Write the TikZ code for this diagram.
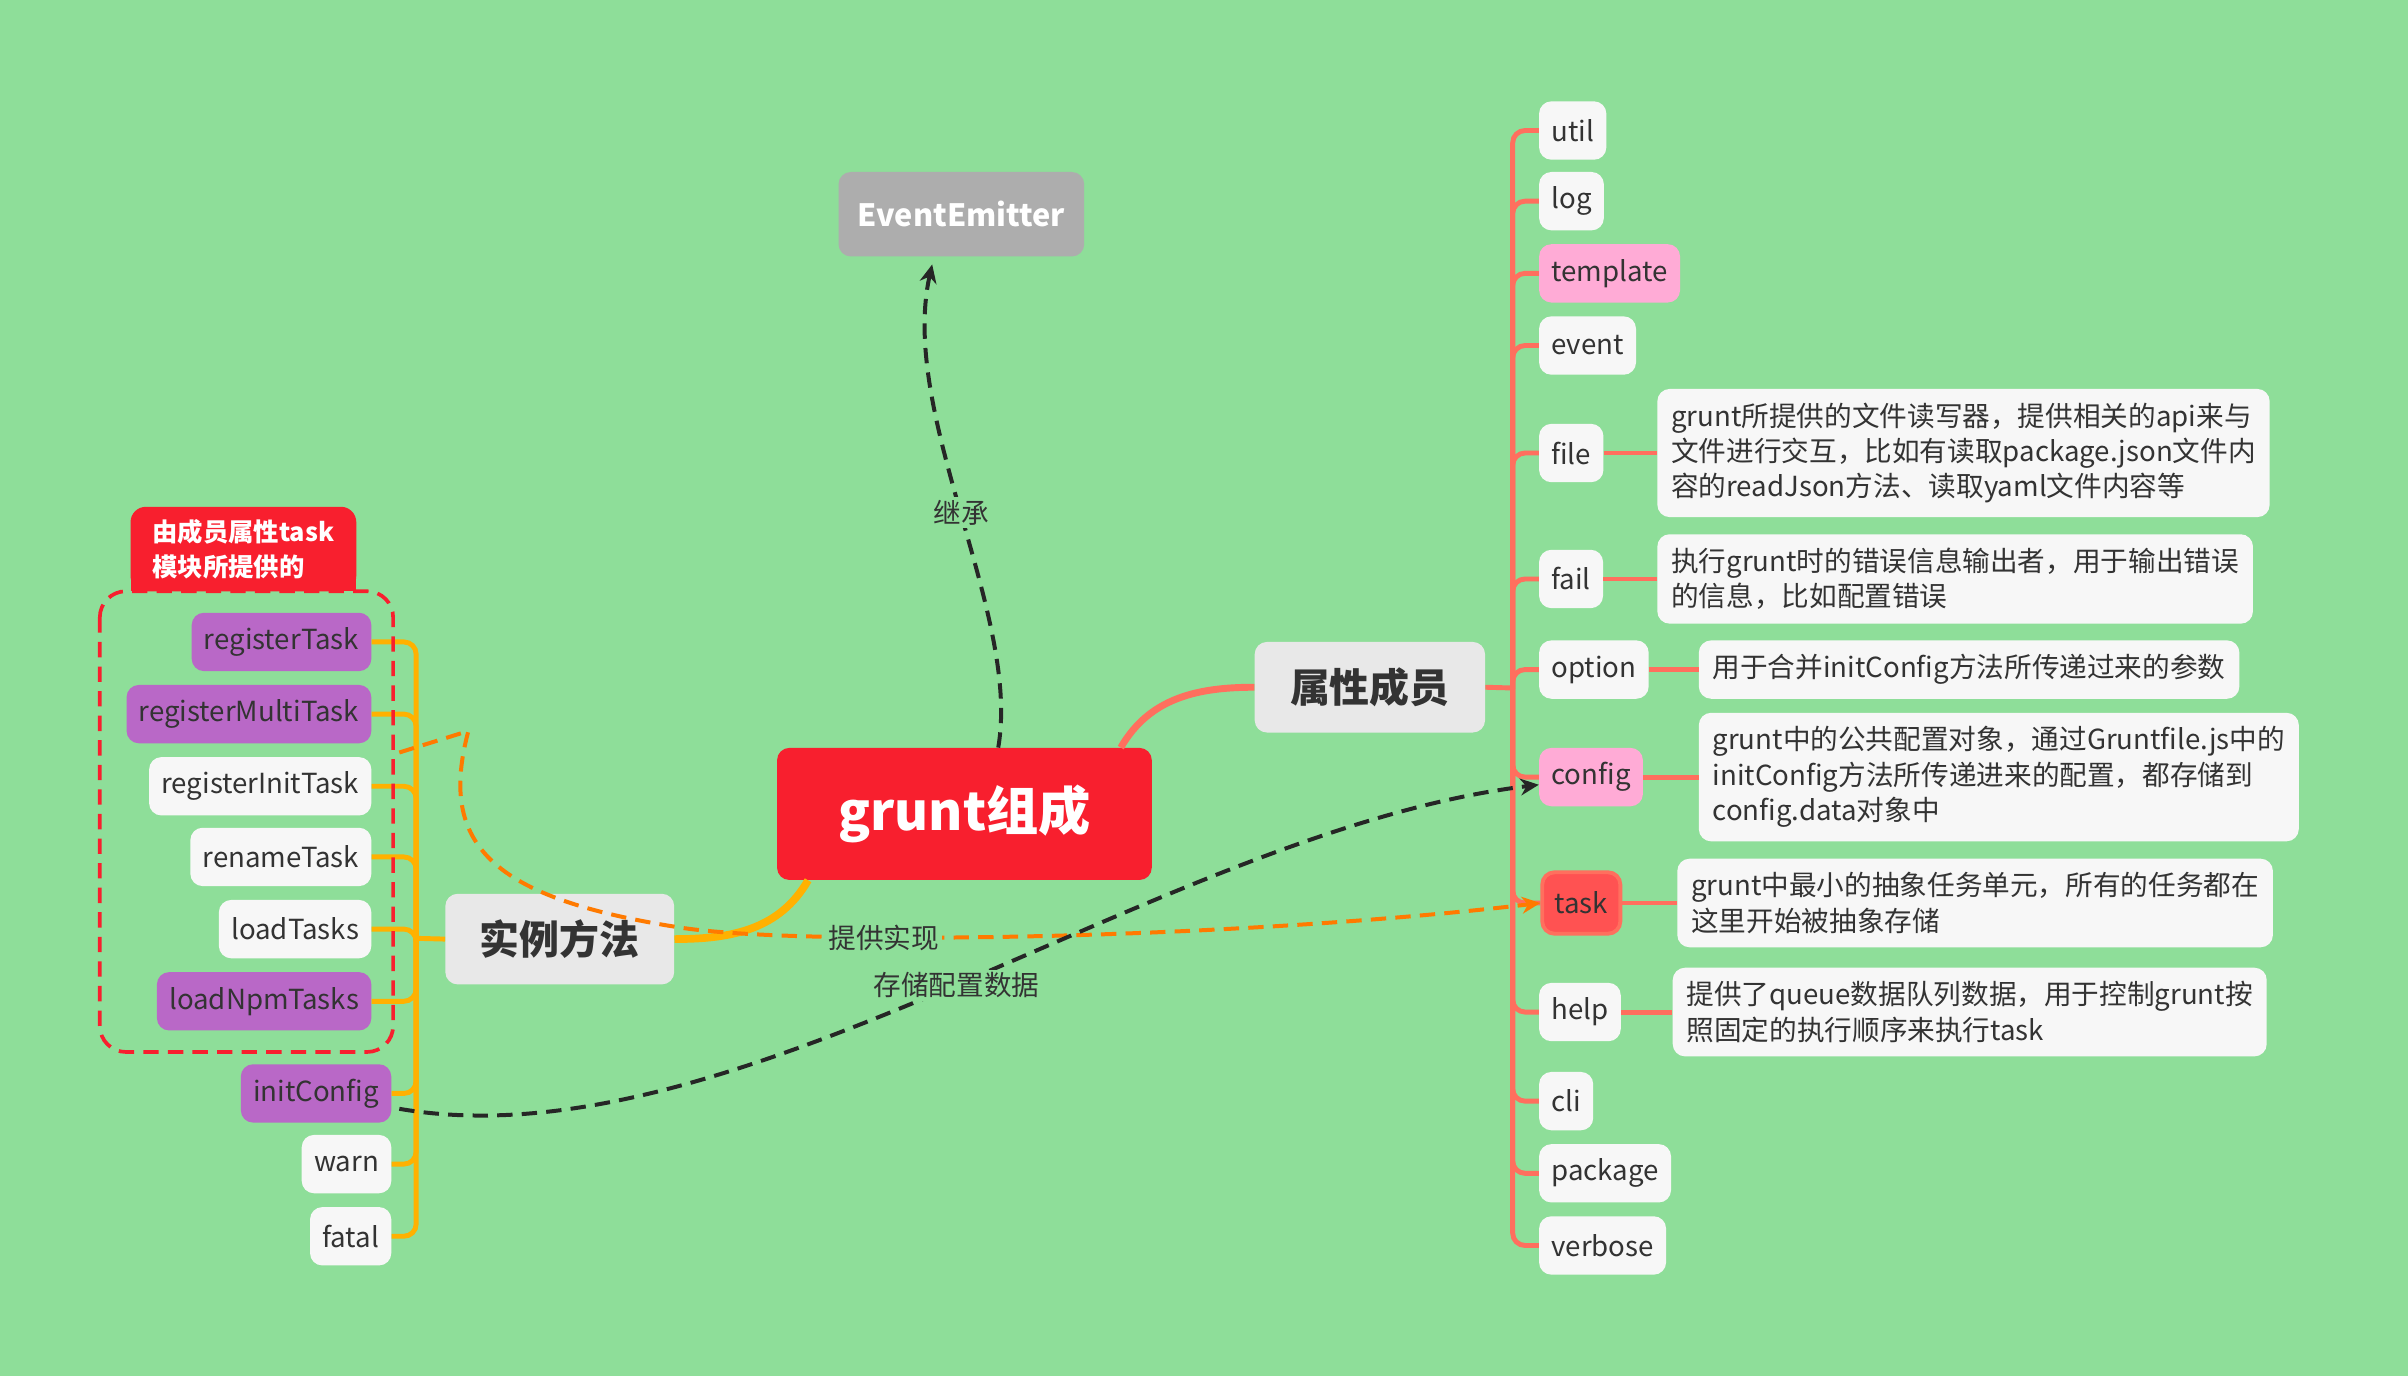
\documentclass[tikz,border=0pt]{standalone}
\usepackage{fontspec}
\setmainfont{Noto Sans CJK SC}
\usetikzlibrary{arrows.meta, positioning}

\definecolor{bggreen}{RGB}{142,222,153}
\definecolor{mainred}{RGB}{248,31,46}
\definecolor{emgray}{RGB}{173,173,173}
\definecolor{topicgray}{RGB}{232,232,232}
\definecolor{leafwhite}{RGB}{247,247,247}
\definecolor{leafpurple}{RGB}{185,104,199}
\definecolor{leafpink}{RGB}{255,171,214}
\definecolor{taskred}{RGB}{255,82,82}
\definecolor{linesalmon}{RGB}{255,111,94}
\definecolor{lineorange}{RGB}{255,177,0}
\definecolor{dashorange}{RGB}{255,122,0}
\definecolor{dashblack}{RGB}{38,38,38}
\definecolor{txtdark}{RGB}{51,51,51}

\tikzset{
    leaf/.style={fill=leafwhite, rounded corners=8pt, text=txtdark,
        font=\fontsize{18}{22}\selectfont, inner xsep=8pt, inner ysep=0pt, minimum height=38pt},
    purpleleaf/.style={leaf, fill=leafpurple},
    pinkleaf/.style={leaf, fill=leafpink},
    desc/.style={leaf, align=left, font=\fontsize{18}{23}\selectfont, inner xsep=9pt, inner ysep=9pt},
    topic/.style={fill=topicgray, rounded corners=8pt, text=txtdark,
        font=\fontsize{26}{30}\selectfont\bfseries, minimum width=150pt, minimum height=59pt},
    propline/.style={draw=linesalmon, line width=3.2pt, rounded corners=8pt},
    methline/.style={draw=lineorange, line width=3.2pt, rounded corners=8pt},
    relline/.style={line width=2.6pt, dash pattern=on 10pt off 6pt, -{Stealth[length=12pt,width=11pt]}},
    rellabel/.style={fill=bggreen, text=txtdark, font=\fontsize{18}{22}\selectfont, inner sep=2pt}
}

\begin{document}
\begin{tikzpicture}[x=1pt, y=-1pt]
    \fill[bggreen] (0,0) rectangle (1568,896);
    \useasboundingbox (0,0) rectangle (1568,896);

    % centre and main topics
    \node[fill=mainred, rounded corners=8pt, text=white, font=\fontsize{34}{38}\selectfont\bfseries,
        minimum width=244pt, minimum height=86pt] (grunt) at (628,530) {grunt组成};
    \node[fill=emgray, rounded corners=8pt, text=white, font=\fontsize{20}{24}\selectfont\bfseries,
        minimum width=160pt, minimum height=55pt] (emitter) at (626,139.5) {EventEmitter};
    \node[topic] (attrs) at (892,447.5) {属性成员};
    \node[topic, minimum width=149pt] (methods) at (364.5,611.5) {实例方法};

    % members
    \node[leaf, anchor=west] (util) at (1002,85) {util};
    \node[leaf, anchor=west] (log) at (1002,131) {log};
    \node[pinkleaf, anchor=west] (template) at (1002,178) {template};
    \node[leaf, anchor=west] (event) at (1002,225) {event};
    \node[leaf, anchor=west] (file) at (1002,295) {file};
    \node[leaf, anchor=west] (fail) at (1002,377) {fail};
    \node[leaf, anchor=west] (option) at (1002,436) {option};
    \node[pinkleaf, anchor=west] (config) at (1002,506) {config};
    \node[leaf, anchor=west, fill=taskred, draw=linesalmon, line width=2.5pt, minimum height=40pt] (task) at (1003,588) {task};
    \node[leaf, anchor=west] (help) at (1002,659) {help};
    \node[leaf, anchor=west] (cli) at (1002,717) {cli};
    \node[leaf, anchor=west] (package) at (1002,764) {package};
    \node[leaf, anchor=west] (verbose) at (1002,811) {verbose};

    \node[desc, anchor=west] (filedesc) at (1079,295) {grunt所提供的文件读写器，提供相关的api来与\\文件进行交互，比如有读取package.json文件内\\容的readJson方法、读取yaml文件内容等};
    \node[desc, anchor=west] (faildesc) at (1079,377) {执行grunt时的错误信息输出者，用于输出错误\\的信息，比如配置错误};
    \node[desc, anchor=west] (optiondesc) at (1106,436) {用于合并initConfig方法所传递过来的参数};
    \node[desc, anchor=west] (configdesc) at (1106,506) {grunt中的公共配置对象，通过Gruntfile.js中的\\initConfig方法所传递进来的配置，都存储到\\config.data对象中};
    \node[desc, anchor=west] (taskdesc) at (1092,588) {grunt中最小的抽象任务单元，所有的任务都在\\这里开始被抽象存储};
    \node[desc, anchor=west] (helpdesc) at (1089,659) {提供了queue数据队列数据，用于控制grunt按\\照固定的执行顺序来执行task};

    % methods
    \node[purpleleaf, anchor=east] (regtask) at (242,418) {registerTask};
    \node[purpleleaf, anchor=east] (regmulti) at (242,465) {registerMultiTask};
    \node[leaf, anchor=east] (reginit) at (242,512) {registerInitTask};
    \node[leaf, anchor=east] (renametask) at (242,558) {renameTask};
    \node[leaf, anchor=east] (loadtasks) at (242,605) {loadTasks};
    \node[purpleleaf, anchor=east] (loadnpm) at (242,652) {loadNpmTasks};
    \node[purpleleaf, anchor=east] (initcfg) at (255,712) {initConfig};
    \node[leaf, anchor=east] (warn) at (255,758) {warn};
    \node[leaf, anchor=east] (fatal) at (255,805) {fatal};

    % branches
    \coordinate (pspine) at (985,448);
    \coordinate (mspine) at (271,611);
    \draw[draw=linesalmon, line width=4.5pt] (grunt.23) to[out=60, in=180] (attrs.west);
    \draw[draw=lineorange, line width=5pt] (grunt.203) to[out=240, in=0] (methods.east);
    \draw[propline] (attrs.east) -- (pspine);
    \draw[methline] (methods.west) -- (mspine);
    \foreach \n in {util,log,template,event,file,fail,option,config,task,help,cli,package,verbose}
        \draw[propline] (pspine) |- (\n.west);
    \foreach \n in {regtask,regmulti,reginit,renametask,loadtasks,loadnpm,initcfg,warn,fatal}
        \draw[methline] (mspine) |- (\n.east);
    \foreach \a in {file,fail,option,config,task,help}
        \draw[propline] (\a.east) -- (\a desc.west);

    % group from task module
    \draw[draw=mainred, line width=2.4pt, dash pattern=on 10pt off 6pt, rounded corners=17pt]
        (65,385) rectangle (256,685);
    \fill[mainred] (85,360) rectangle (232,385);
    \node[fill=mainred, rounded corners=10pt, text=white, align=left,
        font=\fontsize{16.5}{23}\selectfont\bfseries, minimum width=147pt, minimum height=55pt]
        (tag) at (158.5,357.5) {由成员属性task\\模块所提供的};

    % relations
    \draw[relline, draw=dashblack] ([xshift=22pt]grunt.north) .. controls (665,400) and (585,270)
        .. node[rellabel, pos=0.5] (inherit) {继承} ([xshift=-19pt, yshift=-5pt]emitter.south);
    \coordinate (implstart) at (260,490);
    \coordinate (implturn) at (305,476);
    \draw[relline, draw=dashorange] (implstart) -- (implturn)
        .. controls (285,550) and (320,585) .. (443,604)
        .. controls (520,616) and (800,612) .. node[rellabel, pos=0.33] (provide) {提供实现} (task.west);
    \draw[relline, draw=dashblack] ([xshift=5pt, yshift=-10pt]initcfg.east) .. controls (480,760) and (760,540)
        .. node[rellabel, pos=0.5] (store) {存储配置数据} ([yshift=-5pt]config.west);
\end{tikzpicture}
\end{document}
